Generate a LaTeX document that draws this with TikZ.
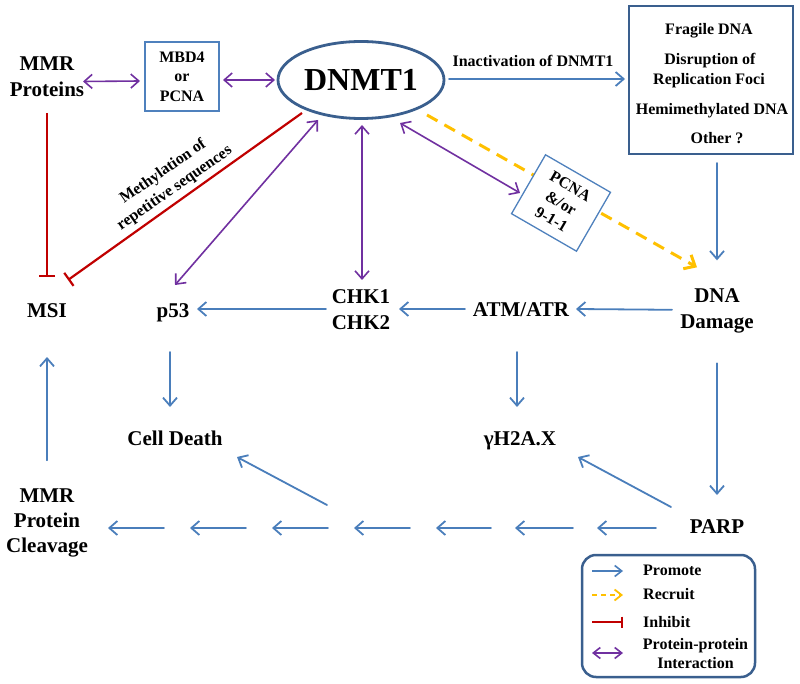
\documentclass[tikz,border=0pt]{standalone}
\usepackage{fontspec}
\setmainfont{Liberation Serif}
\usetikzlibrary{arrows.meta,shapes.geometric,calc}
\definecolor{cblue}{HTML}{4A7EBB}
\definecolor{cdark}{HTML}{3A5F8E}
\definecolor{cpurple}{HTML}{7030A0}
\definecolor{cred}{HTML}{C00000}
\definecolor{cyellow}{HTML}{FFC000}
\definecolor{cbox}{HTML}{4F81BD}
\begin{document}
\begin{tikzpicture}[x=1pt,y=-1pt,
  lbl/.style={font=\bfseries\fontsize{21}{26}\selectfont, align=center, inner sep=0pt},
  sml/.style={font=\bfseries\fontsize{16}{19.5}\selectfont, align=center, inner sep=0pt},
  promote/.style={draw=cblue, line width=1.8pt, line cap=round, -{Straight Barb[length=8pt,width=14pt]}},
  ppi/.style={draw=cpurple, line width=1.6pt, {Straight Barb[length=8pt,width=14pt]}-{Straight Barb[length=8pt,width=14pt]}},
  inhibit/.style={draw=cred, line width=2.2pt, -{Bar[width=16pt]}},
  recruit/.style={draw=cyellow, line width=3pt, dash pattern=on 12pt off 8pt, -{Straight Barb[length=9pt,width=16pt]}},
  keypromote/.style={draw=cblue, line width=1.6pt, -{Straight Barb[length=7pt,width=11pt]}},
  keyrecruit/.style={draw=cyellow, line width=1.8pt, dash pattern=on 5pt off 4pt, -{Straight Barb[length=7pt,width=11pt]}},
  keyinhibit/.style={draw=cred, line width=2pt, -{Bar[width=11pt]}},
  keyppi/.style={draw=cpurple, line width=1.6pt, {Straight Barb[length=7pt,width=11pt]}-{Straight Barb[length=7pt,width=11pt]}},
]
\path[use as bounding box] (0,0) rectangle (800,684);

% main nodes
\node[lbl] (mmr) at (47,77) {MMR\\Proteins};
\node[sml, draw=cbox, line width=1.3pt, minimum width=74pt, minimum height=69pt] (mbd) at (182,76.5) {MBD4\\or\\PCNA};
\node[ellipse, draw=cdark, line width=2.8pt, minimum width=166pt, minimum height=77pt, inner sep=0pt,
      font=\bfseries\fontsize{32}{36}\selectfont] (dnmt) at (361,80) {DNMT1};
\node[draw=cdark, line width=2.8pt, minimum width=164pt, minimum height=148pt] (fragbox) at (711,80) {};
\node[sml, anchor=base] (t1) at (709,35) {Fragile DNA};
\node[sml, anchor=base] (t2) at (710,65) {Disruption of};
\node[sml, anchor=base] (t3) at (709,85) {Replication Foci};
\node[sml, anchor=base] (t4) at (712,115) {Hemimethylated DNA};
\node[sml, anchor=base] (t5) at (717,144) {Other ?};
\node[sml, anchor=base] (inact) at (533,67) {Inactivation of DNMT1};

\node[lbl] (dd) at (717,311.3) {DNA\\Damage};
\node[lbl, anchor=base] (atm) at (521,317) {ATM/ATR};
\node[lbl] (chk) at (361,309.5) {CHK1\\CHK2};
\node[lbl, anchor=base] (p53) at (173,318) {p53};
\node[lbl, anchor=base] (msi) at (47,318) {MSI};
\node[lbl, anchor=base] (gam) at (520,445) {γH2A.X};
\node[lbl, anchor=base] (cd) at (175,445) {Cell Death};
\node[lbl, anchor=base] (parp) at (717,533) {PARP};
\node[lbl, font=\bfseries\fontsize{21}{25}\selectfont] (mpc) at (47,523.3) {MMR\\Protein\\Cleavage};

\node[sml, rotate=35, font=\bfseries\fontsize{16}{20}\selectfont] (meth) at (169,180) {Methylation of\\repetitive sequences};

% connectors
\draw[ppi] ($(mmr)+(36,4.5)$) -- ($(mbd)+(-42,4.5)$);
\draw[ppi] ($(mbd)+(41,3.5)$) -- ($(dnmt)+(-86,0)$);
\draw[promote] ($(dnmt)+(88,-1)$) -- ($(fragbox)+(-86,-1)$);
\draw[promote] ($(fragbox)+(6,83)$) -- ($(dd)+(0,-51)$);
\draw[promote] ($(dd)+(-45,-1.5)$) -- ($(atm.base)+(55,-8)$);
\draw[promote] ($(atm.base)+(-56,-8)$) -- ($(chk)+(38,-0.5)$);
\draw[promote] ($(chk)+(-35,-0.5)$) -- ($(p53.base)+(24,-9)$);
\draw[promote] ($(p53.base)+(-3,34)$) -- ($(cd.base)+(-5,-38)$);
\draw[promote] ($(atm.base)+(-4,35)$) -- ($(gam.base)+(-3,-38)$);
\draw[promote] ($(dd)+(0,52)$) -- ($(parp.base)+(0,-38)$);
\draw[promote] ($(parp.base)+(-46,-26)$) -- ($(gam.base)+(58,12)$);
\foreach \s/\e in {656/597, 573/515, 491/436, 410/354, 328/272, 246/190, 164/108}
  \draw[promote] ($(parp.base)+(\s-717,-5)$) -- ($(parp.base)+(\e-717,-5)$);
\draw[promote] ($(cd.base)+(152,60)$) -- ($(cd.base)+(62,12)$);
\draw[promote] ($(mpc)+(0,-63)$) -- ($(msi.base)+(0,39)$);

\draw[inhibit] ($(mmr)+(0,36)$) -- ($(msi.base)+(0,-41)$);
\draw[inhibit] ($(dnmt)+(-59,33)$) -- ($(msi.base)+(21,-38)$);

\draw[ppi] ($(dnmt)+(-43,40)$) -- ($(p53.base)+(2,-33)$);
\draw[ppi] ($(dnmt)+(1,45)$) -- ($(chk)+(1,-29.5)$);

\draw[recruit] ($(dnmt)+(66,35)$) -- ($(dd)+(-20,-44)$);
\node[sml, draw=cbox, fill=white, line width=1.3pt, rotate=-30, minimum width=75pt, minimum height=68pt,
      font=\bfseries\fontsize{16}{19}\selectfont] (pcna) at (561,203) {PCNA\\\&/or\\9-1-1};
\draw[ppi] ($(dnmt)+(39,43)$) -- ($(pcna)+(-41,-10)$);

% legend
\node[draw=cdark, line width=2.5pt, rounded corners=14pt, minimum width=173pt, minimum height=122pt] (legend) at (668.5,616) {};
\draw[keypromote] ($(legend)+(-76.5,-45)$) -- ($(legend)+(-45.5,-45)$);
\draw[keyrecruit] ($(legend)+(-76.5,-21)$) -- ($(legend)+(-45.5,-21)$);
\draw[keyinhibit] ($(legend)+(-76.5,6)$) -- ($(legend)+(-45.5,6)$);
\draw[keyppi] ($(legend)+(-76.5,37)$) -- ($(legend)+(-45.5,37)$);
\node[sml, anchor=base west] (kp) at ($(legend)+(-25.5,-41)$) {Promote};
\node[sml, anchor=base west] (kr) at ($(legend)+(-25.5,-17)$) {Recruit};
\node[sml, anchor=base west] (ki) at ($(legend)+(-25.5,11)$) {Inhibit};
\node[sml, font=\bfseries\fontsize{16}{19}\selectfont] (kx) at ($(legend)+(27,38)$) {Protein-protein\\Interaction};
\end{tikzpicture}
\end{document}
